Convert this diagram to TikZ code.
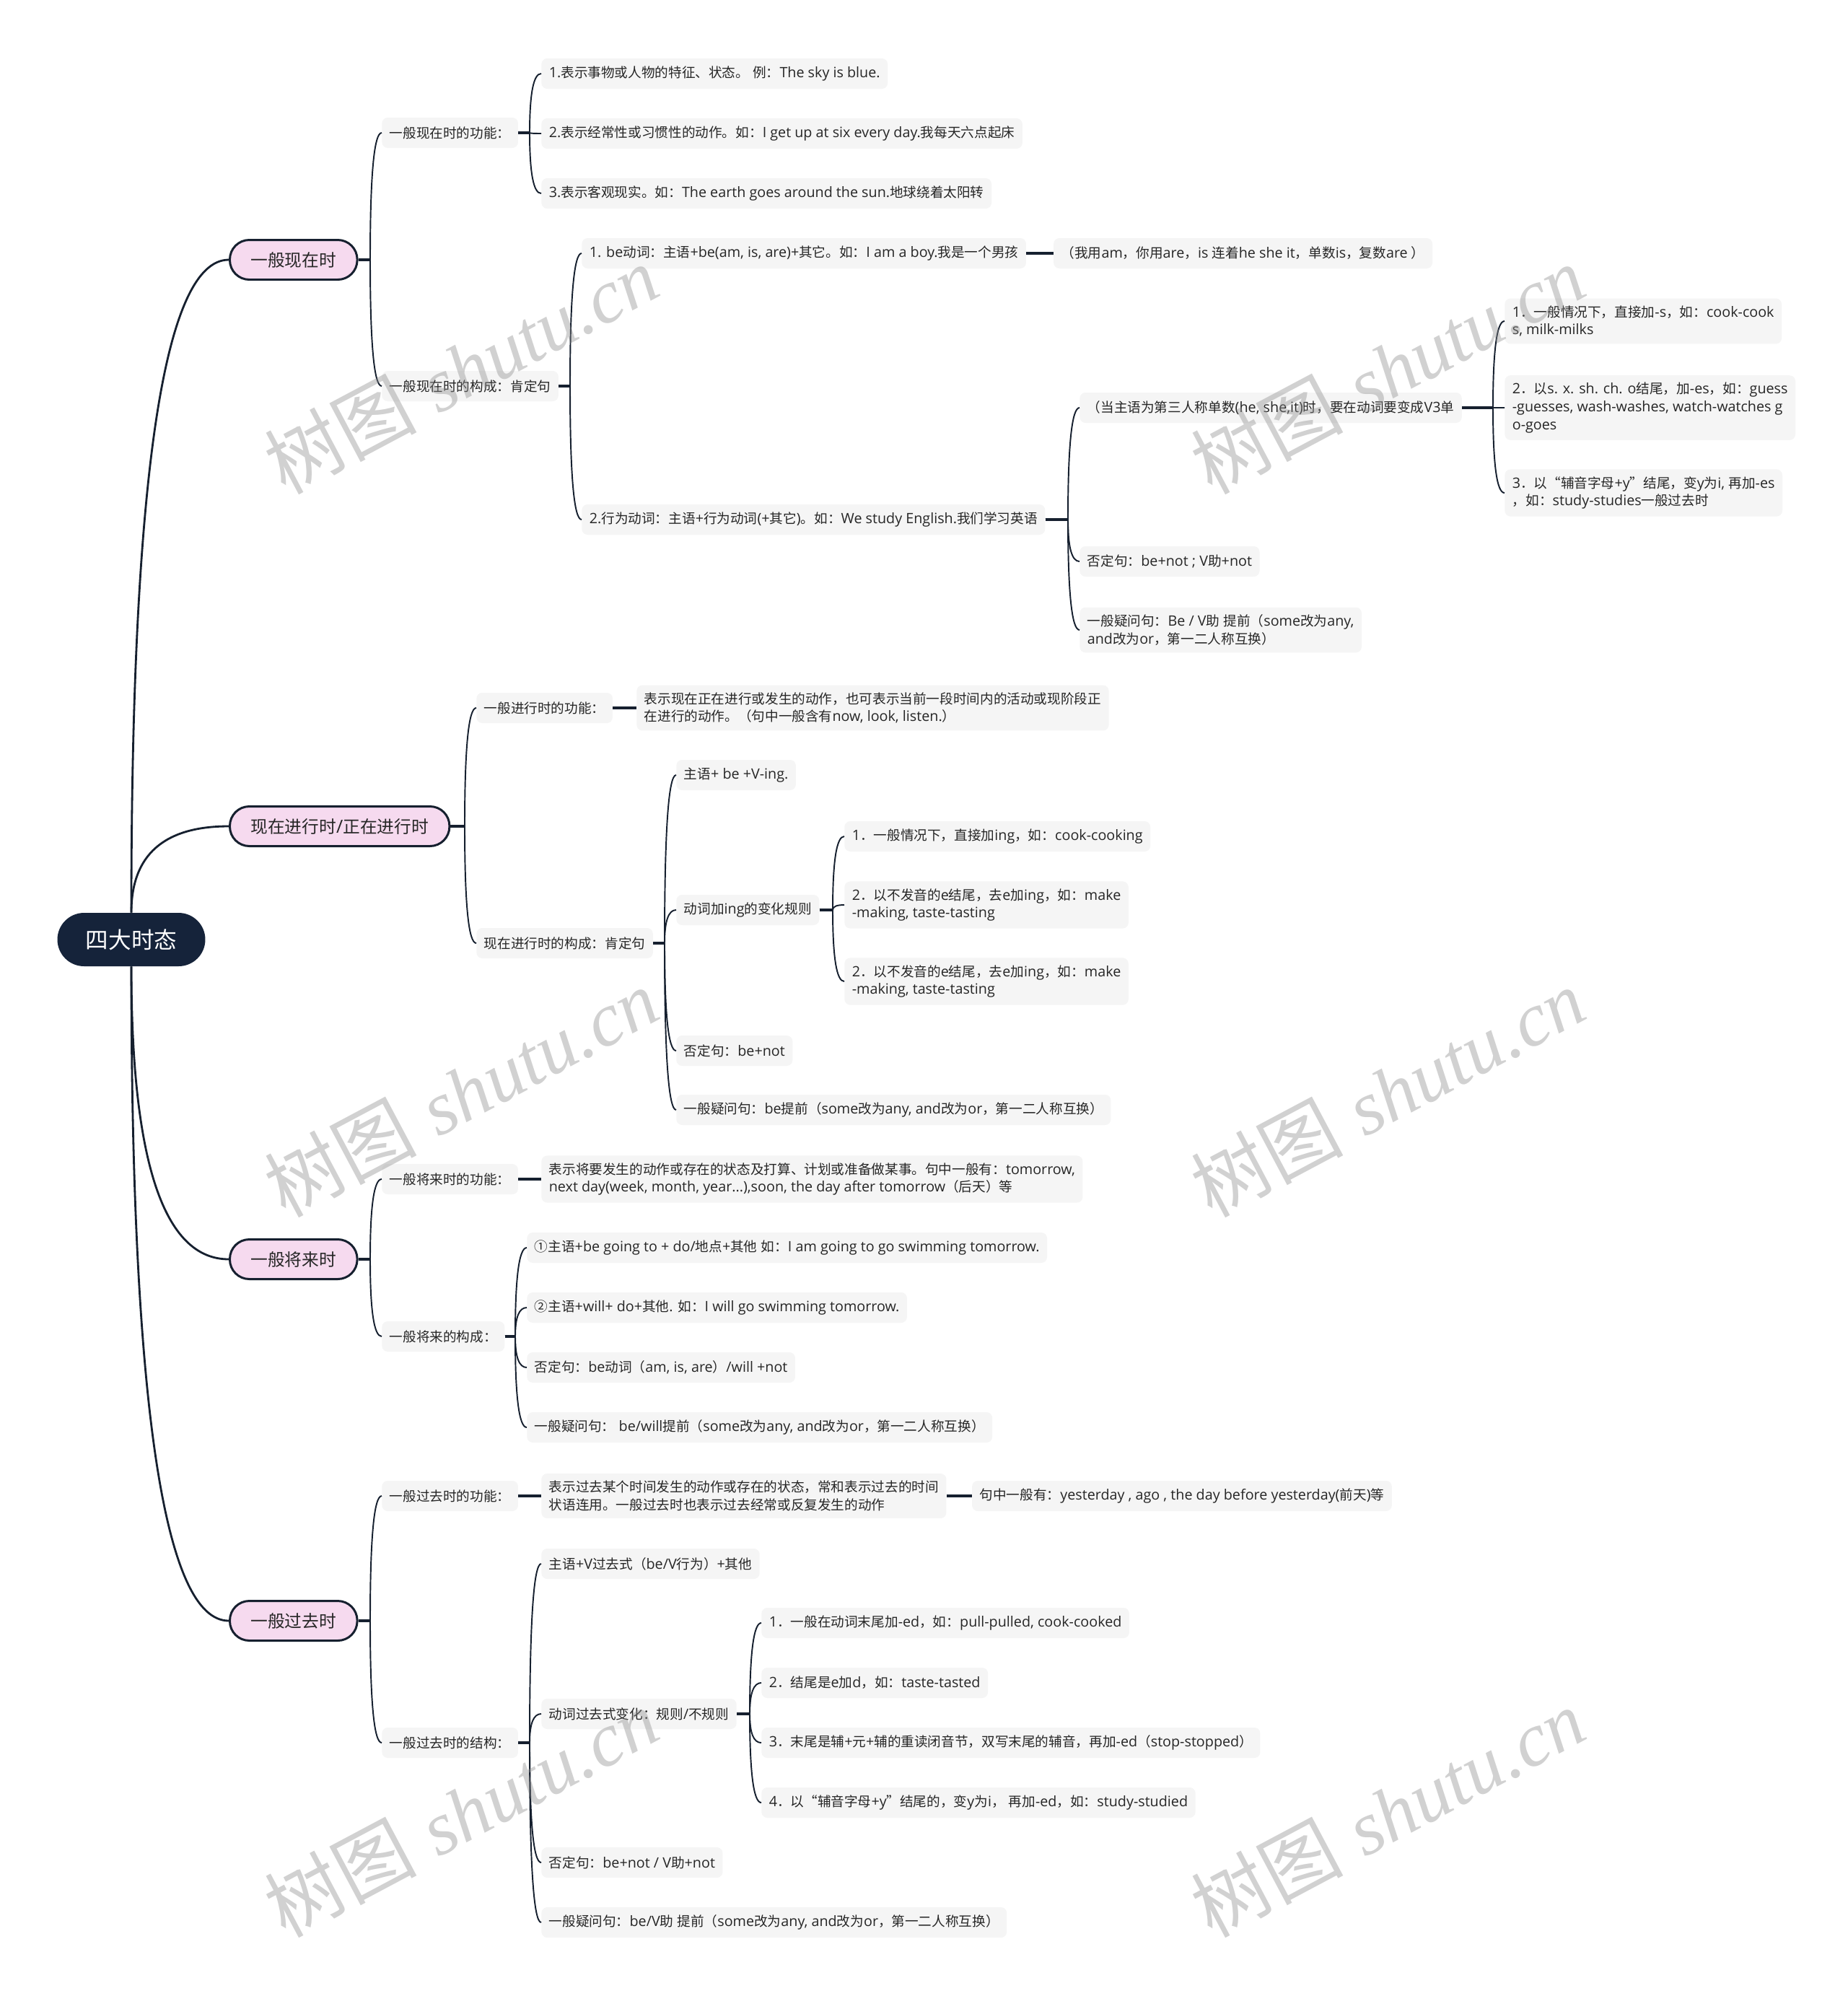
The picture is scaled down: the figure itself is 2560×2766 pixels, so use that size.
\documentclass[tikz,border=0pt]{standalone}
\usepackage{fontspec}
\setmainfont{Open Sans}[Scale=1.06]
\newfontfamily\latinfont{Open Sans}[Scale=1.06]
\newfontfamily\cjkfont{Noto Sans CJK SC}
\newfontfamily\wmlatin{Liberation Serif}
\usetikzlibrary{positioning,calc}

% switch to the CJK face for Han characters and full-width punctuation
\XeTeXinterchartokenstate=1
\newXeTeXintercharclass\cjkcls
\newcount\cjkn
\def\setcjkrange#1#2{\cjkn=#1\relax
  \loop \XeTeXcharclass\cjkn=\cjkcls \ifnum\cjkn<#2\relax \advance\cjkn by 1 \repeat}
\setcjkrange{"4E00}{"9FFF}
\setcjkrange{"3000}{"303F}
\setcjkrange{"FF00}{"FFEF}
\setcjkrange{"2460}{"24FF}
\XeTeXcharclass"201C=\cjkcls
\XeTeXcharclass"201D=\cjkcls
\XeTeXinterchartoks 0 \cjkcls = {\cjkfont}
\XeTeXinterchartoks 4095 \cjkcls = {\cjkfont}
\XeTeXinterchartoks \cjkcls 0 = {\latinfont}
\XeTeXinterchartoks \cjkcls 4095 = {\latinfont}

\definecolor{rootC}{HTML}{15233A}
\definecolor{lineC}{HTML}{16202F}
\definecolor{pinkC}{HTML}{F6DAEF}
\definecolor{boxC}{HTML}{F5F5F5}
\definecolor{txtC}{HTML}{262626}

% curved branch: spine just left of the child, hooking into child.west
\newcommand{\mapbranch}[2]{%
  \path ($(#1.east -| #2.west)+(-16,0)$) coordinate (s) (s |- #2.west) coordinate (k);
  \draw[stub] (#1.east) -- (s);
  \draw[link] (s) .. controls ($(s)!2/3!(k)$) and ($(#2.west)!2/3!(k)$) .. (#2.west);}
% root branch, from a root anchor to the topic
\newcommand{\maproot}[2]{%
  \path (#1 |- #2.west) coordinate (k);
  \draw[link, line width=1.6pt] (#1) .. controls ($(#1)!2/3!(k)$) and ($(#2.west)!2/3!(k)$) .. (#2.west);}

\begin{document}
\begin{tikzpicture}[x=0.02cm, y=-0.02cm,
  root/.style={fill=rootC, text=white, rounded corners=0.74cm, minimum width=4.1cm, minimum height=1.48cm, font=\fontsize{18}{22}\selectfont},
  topic/.style={anchor=west, fill=pinkC, draw=lineC, line width=1.7pt, rounded corners=0.54cm, minimum height=1.1cm, inner xsep=0.58cm, text=txtC, font=\fontsize{13.5}{16}\selectfont},
  item/.style={anchor=west, fill=boxC, rounded corners=0.16cm, minimum height=0.84cm, inner xsep=0.21cm, inner ysep=0.2cm, align=left, text=txtC, font=\fontsize{10.6}{14}\selectfont},
  link/.style={draw=lineC, line width=1.1pt},
  stub/.style={draw=lineC, line width=1.8pt},
  wm/.style={text=black!45, opacity=0.4, rotate=28, font=\fontsize{60}{60}\selectfont},
]
\fill[white] (0,0) rectangle (2560,2766);
\useasboundingbox (0,0) rectangle (2560,2766);
% ---- root + topics ----
\node[root] (root) at (182,1302) {四大时态};
\node[topic] (A) at (317,360) {一般现在时};
\node[topic] (B) at (317,1145) {现在进行时/正在进行时};
\node[topic] (C) at (317,1745) {一般将来时};
\node[topic] (D) at (317,2246) {一般过去时};
% ---- 一般现在时 ----
\node[item] (a1) at (529,184) {一般现在时的功能：};
\node[item] (a2) at (529,535) {一般现在时的构成：肯定句};
\node[item] (a1a) at (750,102) {1.表示事物或人物的特征、状态。 例：The sky is blue.};
\node[item] (a1b) at (750,185) {2.表示经常性或习惯性的动作。如：I get up at six every day.我每天六点起床};
\node[item] (a1c) at (750,268) {3.表示客观现实。如：The earth goes around the sun.地球绕着太阳转};
\node[item] (a2a) at (806,351) {1. be动词：主语+be(am, is, are)+其它。如：I am a boy.我是一个男孩};
\node[item, right=0.75cm of a2a] (a2a1) {（我用am，你用are，is 连着he she it，单数is，复数are ）};
\node[item] (a2b) at (806,720) {2.行为动词：主语+行为动词(+其它)。如：We study English.我们学习英语};
\node[item] (a2b1) at (1496,565) {（当主语为第三人称单数(he, she,it)时，要在动词要变成V3单};
\node[item] (a2b1a) at (2085,445) {1．一般情况下，直接加-s，如：cook-cook\\s, milk-milks};
\node[item] (a2b1b) at (2085,565) {2．以s. x. sh. ch. o结尾，加-es，如：guess\\-guesses, wash-washes, watch-watches g\\o-goes};
\node[item] (a2b1c) at (2085,683) {3．以“辅音字母+y”结尾，变y为i, 再加-es\\，如：study-studies一般过去时};
\node[item] (a2b2) at (1496,778) {否定句：be+not ; V助+not};
\node[item] (a2b3) at (1496,873) {一般疑问句：Be / V助 提前（some改为any,\\ and改为or，第一二人称互换）};
% ---- 现在进行时 ----
\node[item] (b1) at (660,981) {一般进行时的功能：};
\node[item] (b1a) at (882,981) {表示现在正在进行或发生的动作，也可表示当前一段时间内的活动或现阶段正\\在进行的动作。（句中一般含有now, look, listen.）};
\node[item] (b2) at (660,1307) {现在进行时的构成：肯定句};
\node[item] (b2a) at (937,1074) {主语+ be +V-ing.};
\node[item] (b2b) at (937,1261) {动词加ing的变化规则};
\node[item] (b2b1) at (1170,1159) {1．一般情况下，直接加ing，如：cook-cooking};
\node[item] (b2b2) at (1170,1254) {2．以不发音的e结尾，去e加ing，如：make\\-making, taste-tasting};
\node[item] (b2b3) at (1170,1360) {2．以不发音的e结尾，去e加ing，如：make\\-making, taste-tasting};
\node[item] (b2c) at (937,1456) {否定句：be+not};
\node[item] (b2d) at (937,1538) {一般疑问句：be提前（some改为any, and改为or，第一二人称互换）};
% ---- 一般将来时 ----
\node[item] (c1) at (529,1634) {一般将来时的功能：};
\node[item] (c1a) at (750,1634) {表示将要发生的动作或存在的状态及打算、计划或准备做某事。句中一般有：tomorrow,\\next day(week, month, year...),soon, the day after tomorrow（后天）等};
\node[item] (c2) at (529,1852) {一般将来的构成：};
\node[item] (c2a) at (730,1729) {①主语+be going to + do/地点+其他 如：I am going to go swimming tomorrow.};
\node[item] (c2b) at (730,1812) {②主语+will+ do+其他. 如：I will go swimming tomorrow.};
\node[item] (c2c) at (730,1895) {否定句：be动词（am, is, are）/will +not};
\node[item] (c2d) at (730,1978) {一般疑问句： be/will提前（some改为any, and改为or，第一二人称互换）};
% ---- 一般过去时 ----
\node[item] (d1) at (529,2073) {一般过去时的功能：};
\node[item] (d1a) at (750,2073) {表示过去某个时间发生的动作或存在的状态，常和表示过去的时间\\状语连用。一般过去时也表示过去经常或反复发生的动作};
\node[item, right=0.7cm of d1a] (d1a1) {句中一般有：yesterday , ago , the day before yesterday(前天)等};
\node[item] (d2) at (529,2415) {一般过去时的结构：};
\node[item] (d2a) at (750,2167) {主语+V过去式（be/V行为）+其他};
\node[item] (d2b) at (750,2375) {动词过去式变化：规则/不规则};
\node[item] (d2b1) at (1055,2249) {1．一般在动词末尾加-ed，如：pull-pulled, cook-cooked};
\node[item] (d2b2) at (1055,2332) {2．结尾是e加d，如：taste-tasted};
\node[item] (d2b3) at (1055,2415) {3．末尾是辅+元+辅的重读闭音节，双写末尾的辅音，再加-ed（stop-stopped）};
\node[item] (d2b4) at (1055,2498) {4．以“辅音字母+y”结尾的，变y为i， 再加-ed，如：study-studied};
\node[item] (d2c) at (750,2581) {否定句：be+not / V助+not};
\node[item] (d2d) at (750,2664) {一般疑问句：be/V助 提前（some改为any, and改为or，第一二人称互换）};
% ---- connectors ----
\maproot{root.north}{A}
\maproot{root.north}{B}
\maproot{root.south}{C}
\maproot{root.south}{D}
\foreach \p/\kids in {A/{a1,a2}, a1/{a1a,a1b,a1c}, a2/{a2a,a2b}, a2b/{a2b1,a2b2,a2b3},
    a2b1/{a2b1a,a2b1b,a2b1c}, B/{b1,b2}, b2/{b2a,b2b,b2c,b2d}, b2b/{b2b1,b2b2,b2b3},
    C/{c1,c2}, c2/{c2a,c2b,c2c,c2d}, D/{d1,d2}, d2/{d2a,d2b,d2c,d2d}, d2b/{d2b1,d2b2,d2b3,d2b4}}
  \foreach \k in \kids {\mapbranch{\p}{\k}}
\foreach \p/\k in {a2a/a2a1, b1/b1a, c1/c1a, d1/d1a, d1a/d1a1}
  \draw[stub] (\p.east) -- (\k.west);
% ---- watermark ----
\foreach \wx/\wy [count=\i] in {639/512, 1923/512, 639/1514, 1923/1514, 639/2512, 1923/2512}
  \node[wm] (wm\i) at (\wx,\wy) {树图 {\wmlatin\itshape shutu.cn}};
\end{tikzpicture}
\end{document}
